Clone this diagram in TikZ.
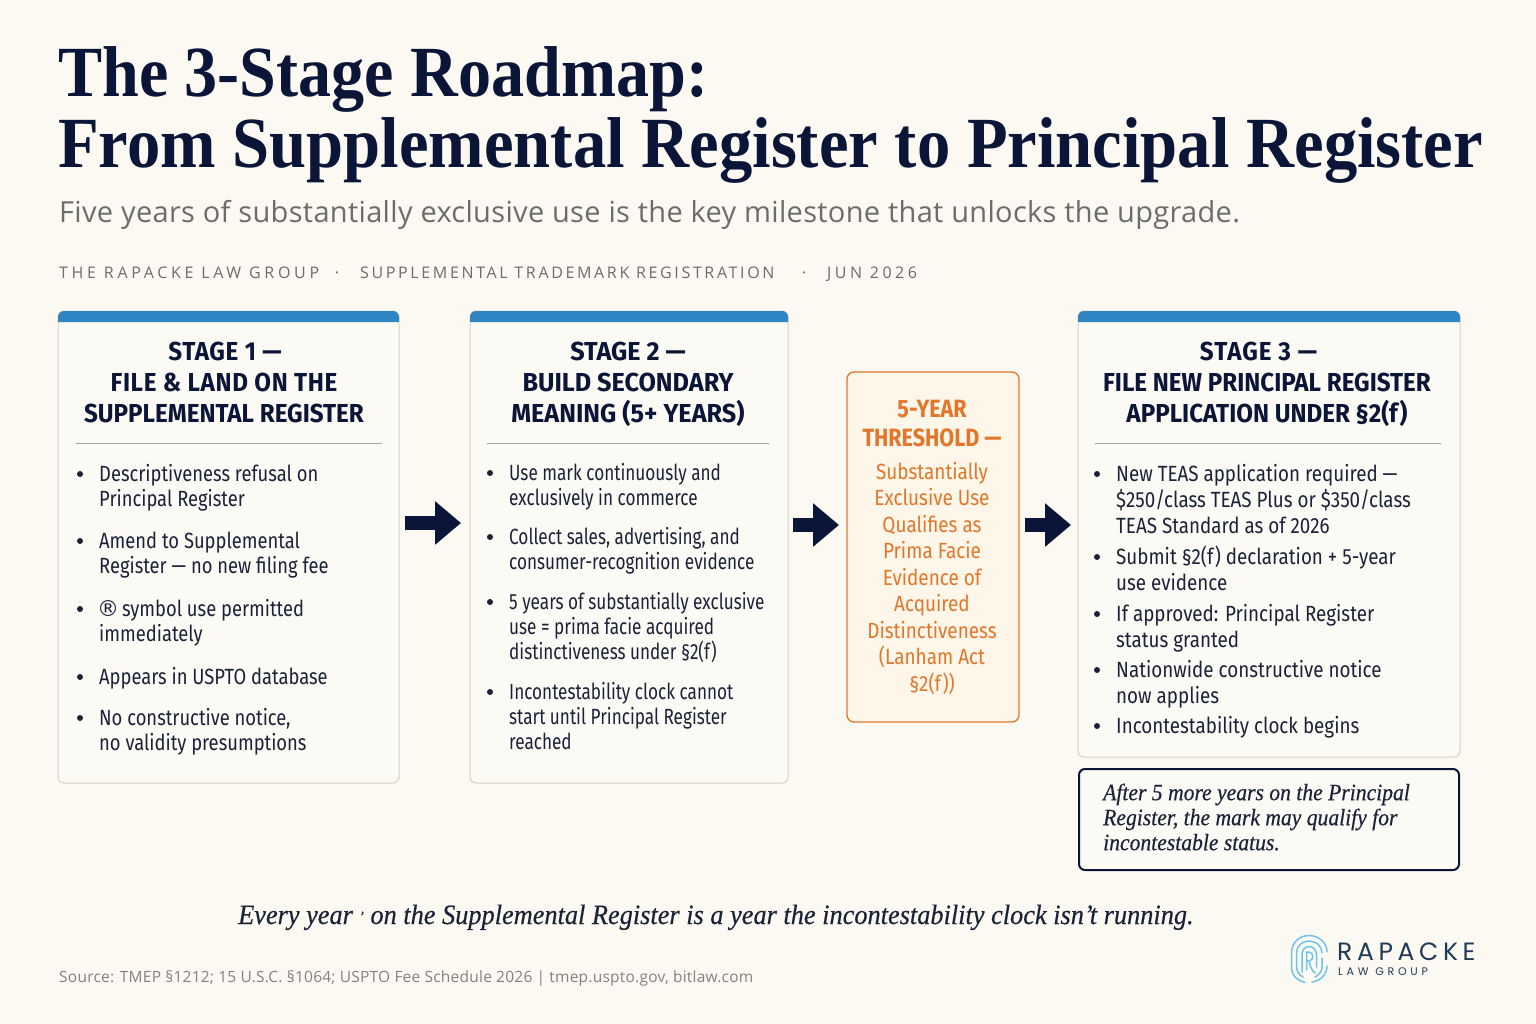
\documentclass[tikz,border=0pt]{standalone}
\usepackage{fontspec}
\usetikzlibrary{arrows.meta}
\setmainfont{Liberation Serif}
\newfontfamily\titlef[FakeStretch=0.918]{Liberation Serif}
\newfontfamily\titleBf[FakeStretch=0.925]{Liberation Serif}
\newfontfamily\serifit[FakeStretch=0.94,FakeBold=0.4]{Liberation Serif}
\newfontfamily\callf[FakeStretch=0.92,FakeBold=0.4]{Liberation Serif}
\newfontfamily\bodyAf[FakeStretch=0.835]{Fira Sans}
\newfontfamily\bodyBf[FakeStretch=0.78]{Fira Sans}
\newfontfamily\bodyCf[FakeStretch=0.855]{Fira Sans}
\newfontfamily\bodyOf[FakeStretch=0.86]{Fira Sans}
\newfontfamily\headf[FakeStretch=0.93]{Fira Sans}
\newfontfamily\headBf[FakeStretch=0.97]{Fira Sans}
\newfontfamily\headOf[FakeStretch=0.86]{Fira Sans}
\newfontfamily\symf{DejaVu Sans}
\newfontfamily\subf[LetterSpace=1.1]{Open Sans}
\newfontfamily\metaAf[LetterSpace=23]{Open Sans}
\newfontfamily\metaBf[LetterSpace=16.5]{Open Sans}
\newfontfamily\metaCf[LetterSpace=22]{Open Sans}
\newfontfamily\srcf[LetterSpace=1.5]{Open Sans}
\newfontfamily\logof[LetterSpace=18.5]{Poppins}
\newfontfamily\logosf[LetterSpace=34]{Poppins}
\definecolor{bgc}{HTML}{FCF9F2}
\definecolor{cardc}{HTML}{FCFAF5}
\definecolor{edgec}{HTML}{D6D2C4}
\definecolor{barc}{HTML}{2F84C4}
\definecolor{navy}{HTML}{0B1538}
\definecolor{inkc}{HTML}{1A2238}
\definecolor{orangec}{HTML}{E2762A}
\definecolor{orangef}{HTML}{FEF6E8}
\definecolor{greyc}{HTML}{6C6C6C}
\definecolor{logoc}{HTML}{6FC3EC}
\definecolor{logot}{HTML}{1F3B57}
\tikzset{
  x=1pt,y=-1pt,
  card/.style={draw=edgec,line width=1pt,fill=cardc,rounded corners=6pt,inner sep=0pt,outer sep=0pt,anchor=north west},
  bar/.style={fill=barc},
  rulel/.style={draw=black!35,line width=0.8pt},
  heading/.style={inner sep=0pt,align=center,anchor=north,text=navy,font=\headf\bfseries\fontsize{26}{31}\selectfont},
  itemA/.style={inner sep=0pt,align=left,anchor=north west,text=inkc,font=\bodyAf\fontsize{22}{25.6}\selectfont},
  itemB/.style={itemA,font=\bodyBf\fontsize{22}{25}\selectfont},
  itemC/.style={itemA,font=\bodyCf\fontsize{22}{26}\selectfont},
  bdot/.style={circle,fill=inkc,inner sep=0pt,minimum size=6pt},
  flow/.style={line width=14pt,draw=navy,-{Triangle[length=26pt,width=42pt]}},
  logoline/.style={draw=logoc,line width=1.5pt,line cap=round},
  plain/.style={inner sep=0pt,anchor=base west},
}
\newcommand\bul[5]{%
  \node[bdot] (#2d) at ({#3-19},{#4-7}) {};
  \node[#1] (#2) at (#3,{#4-20}) {\rule{0pt}{20pt}#5};
}
\begin{document}
\begin{tikzpicture}
\useasboundingbox (0,0) rectangle (1536,1024);
\fill[bgc] (0,0) rectangle (1536,1024);

% Title block
\node[plain,text=navy,font=\titlef\bfseries\fontsize{72}{80}\selectfont] (title1) at (58,97) {The 3-Stage Roadmap:};
\node[plain,text=navy,font=\titleBf\bfseries\fontsize{72}{80}\selectfont] (title2) at (58,168) {From Supplemental Register to Principal Register};
\node[plain,text=greyc,font=\subf\fontsize{29}{34}\selectfont] (subtitle) at (59,223) {Five years of substantially exclusive use is the key milestone that unlocks the upgrade.};
\node[plain,text=greyc,font=\metaAf\fontsize{16}{20}\selectfont] (meta1) at (59,279) {THE RAPACKE LAW GROUP};
\node[plain,anchor=base,text=greyc,font=\metaAf\fontsize{16}{20}\selectfont] (metad1) at (337,279) {·};
\node[plain,text=greyc,font=\metaBf\fontsize{16}{20}\selectfont] (meta2) at (360,279) {SUPPLEMENTAL TRADEMARK REGISTRATION};
\node[plain,anchor=base,text=greyc,font=\metaAf\fontsize{16}{20}\selectfont] (metad2) at (804,279) {·};
\node[plain,text=greyc,font=\metaCf\fontsize{16}{20}\selectfont] (meta3) at (827,279) {JUN 2026};

% Cards
\node[card,minimum width=341pt,minimum height=472pt] (c1) at (58,311) {};
\node[card,minimum width=318pt,minimum height=472pt] (c2) at (470,311) {};
\node[card,minimum width=382pt,minimum height=446pt] (c3) at (1078,311) {};
\fill[bar] (58,322) [rounded corners=6pt] -- (58,311) -- (399,311) [sharp corners] -- (399,322) -- cycle;
\fill[bar] (470,322) [rounded corners=6pt] -- (470,311) -- (788,311) [sharp corners] -- (788,322) -- cycle;
\fill[bar] (1078,322) [rounded corners=6pt] -- (1078,311) -- (1460,311) [sharp corners] -- (1460,322) -- cycle;

% Stage 1
\node[heading] (h1) at (224,335) {\rule{0pt}{25pt}{\addfontfeature{LetterSpace=2.5}STAGE 1 —}\hspace*{-2pt}\\{\addfontfeature{LetterSpace=2.5}FILE \& LAND ON THE}\\SUPPLEMENTAL REGISTER};
\coordinate (r1a) at (76,443); \coordinate (r1b) at (382,443);
\draw[rulel] (r1a) -- (r1b);
\bul{itemA}{a1}{99}{481}{Descriptiveness refusal on\\Principal Register}
\bul{itemA}{a2}{99}{548}{Amend to Supplemental\\Register — no new filing fee}
\bul{itemA}{a3}{99}{616}{\kern-2pt{\symf\fontsize{22}{25.6}\selectfont ®}\kern-2pt{} symbol use permitted\\immediately}
\bul{itemA}{a4}{99}{684}{Appears in USPTO database}
\bul{itemA}{a5}{99}{725}{No constructive notice,\\no validity presumptions}

% Stage 2
\node[heading,font=\headBf\bfseries\fontsize{26}{31}\selectfont] (h2) at (628,335) {\rule{0pt}{25pt}STAGE 2 —\\BUILD SECONDARY\\MEANING (5+ YEARS)};
\coordinate (r2a) at (487,443); \coordinate (r2b) at (769,443);
\draw[rulel] (r2a) -- (r2b);
\bul{itemB}{b1}{509}{480}{Use mark continuously and\\exclusively in commerce}
\bul{itemB}{b2}{509}{544}{Collect sales, advertising, and\\consumer-recognition evidence}
\bul{itemB}{b3}{509}{609}{5 years of substantially exclusive\\use = prima facie acquired\\distinctiveness under §2(f)}
\bul{itemB}{b4}{509}{699}{Incontestability clock cannot\\start until Principal Register\\reached}

% Threshold
\node[draw=orangec,line width=1.3pt,fill=orangef,rounded corners=7pt,inner sep=0pt,outer sep=0pt,minimum width=172pt,minimum height=350pt,anchor=north west] (th) at (847,372) {};
\node[inner sep=0pt,align=center,anchor=north,text=orangec,font=\headOf\bfseries\fontsize{25}{29}\selectfont] (thh) at (932,396) {\rule{0pt}{21pt}5-YEAR\\THRESHOLD —};
\node[inner sep=0pt,align=center,anchor=north,text=orangec,font=\bodyOf\fontsize{22}{26.5}\selectfont] (thb) at (932,459) {\rule{0pt}{20pt}Substantially\\Exclusive Use\\Qualifies as\\Prima Facie\\Evidence of\\Acquired\\Distinctiveness\\(Lanham Act\\§2(f))};

% Stage 3
\node[heading] (h3) at (1267,335) {\rule{0pt}{25pt}{\addfontfeature{LetterSpace=4}STAGE 3 —}\hspace*{17pt}\\FILE NEW PRINCIPAL REGISTER\\APPLICATION UNDER §2(f)};
\coordinate (r3a) at (1095,443); \coordinate (r3b) at (1441,443);
\draw[rulel] (r3a) -- (r3b);
\bul{itemC}{d1}{1116}{481}{New TEAS application required —\\\$250/class TEAS Plus or \$350/class\\TEAS Standard as of 2026}
\bul{itemC}{d2}{1116}{564}{Submit §2(f) declaration + 5-year\\use evidence}
\bul{itemC}{d3}{1116}{621}{If approved: Principal Register\\status granted}
\bul{itemC}{d4}{1116}{677}{Nationwide constructive notice\\now applies}
\bul{itemC}{d5}{1116}{733}{Incontestability clock begins}

% Callout
\node[draw=navy,line width=2pt,fill=cardc,rounded corners=6pt,inner sep=0pt,outer sep=0pt,minimum width=380pt,minimum height=101pt,anchor=north west] (call) at (1079,769) {};
\node[inner sep=0pt,align=left,anchor=north west,text=inkc,font=\callf\itshape\fontsize{23.5}{25}\selectfont] (callt) at (1103,780) {\rule{0pt}{20pt}After 5 more years on the Principal\\Register, the mark may qualify for\\incontestable status.};

% Flow arrows
\coordinate (f1s) at (405,523); \coordinate (f1e) at (461,523);
\coordinate (f2s) at (793,525); \coordinate (f2e) at (839,525);
\coordinate (f3s) at (1025,525); \coordinate (f3e) at (1071,525);
\draw[flow] (f1s) -- (f1e);
\draw[flow] (f2s) -- (f2e);
\draw[flow] (f3s) -- (f3e);

% Tagline and source
\node[plain,text=inkc,font=\serifit\itshape\fontsize{28}{32}\selectfont] (tag) at (238,924) {Every year \raisebox{3pt}{\fontsize{14}{14}\selectfont ’} on the Supplemental Register is a year the incontestability clock isn’t running.};
\node[plain,text=greyc!85,font=\srcf\fontsize{15.5}{18}\selectfont] (src) at (59,982) {Source: TMEP §1212; 15 U.S.C. §1064; USPTO Fee Schedule 2026 | tmep.uspto.gov, bitlaw.com};

% Logo
\draw[logoline] (1327,952) .. controls (1327,942) and (1318,935.5) .. (1309,935.5) .. controls (1299,935.5) and (1291.5,943) .. (1291.5,953) -- (1291.5,967) .. controls (1291.5,976) and (1298,981) .. (1305,982.5);
\draw[logoline] (1312,982) .. controls (1320,981) and (1327,975) .. (1327,966);
\draw[logoline] (1322,953) .. controls (1322,946) and (1316,941) .. (1309,941) .. controls (1302,941) and (1296.5,946) .. (1296.5,953) -- (1296.5,966) .. controls (1296.5,971) and (1299,975) .. (1303,977);
\draw[logoline] (1322,958) -- (1322,967) .. controls (1322,971) and (1319,975) .. (1315,977);
\draw[logoline] (1302,972) -- (1302,955) .. controls (1302,950) and (1305,946.5) .. (1309,946.5) .. controls (1313,946.5) and (1316.5,950) .. (1316.5,955) -- (1316.5,967);
\draw[logoline] (1306.5,970) -- (1306.5,952) -- (1309,952) .. controls (1314,952) and (1314,961) .. (1309,961) -- (1306.5,961);
\draw[logoline] (1309,961) .. controls (1310,966) and (1312,971) .. (1315,973);
\node[plain,text=logot,font=\logof\fontsize{25}{28}\selectfont] (lg1) at (1337,960) {RAPACKE};
\node[plain,text=logot,font=\logosf\fontsize{11}{13}\selectfont] (lg2) at (1338,975) {LAW GROUP};
\end{tikzpicture}
\end{document}
